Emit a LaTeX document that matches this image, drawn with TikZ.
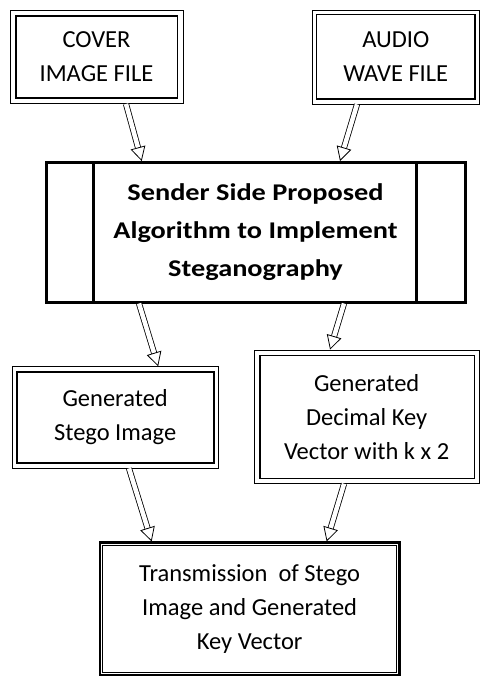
\documentclass[tikz,border=0pt]{standalone}
\usepackage{fontspec}
\setmainfont{Carlito}
\newfontfamily\widefont[FakeStretch=1.18]{Carlito}
\usetikzlibrary{arrows.meta}

\begin{document}
\begin{tikzpicture}[x=1pt,y=-1pt,line width=.8pt,
  txt/.style={align=center,font=\fontsize{24.5}{34}\selectfont},
  box/.style={draw,txt,inner sep=0pt},
  hollow/.style={double,double distance=4.5pt,line width=.8pt,
    -{Triangle[open,length=14pt,width=15pt,line width=.8pt]}}]
\useasboundingbox (0,0) rectangle (480,677);
\node[box,minimum width=173pt,minimum height=93.5pt] (cover) at (96.5,56.75) {COVER\\IMAGE FILE};
\node[box,minimum width=167.5pt,minimum height=94pt] (audio) at (395.75,57) {AUDIO\\WAVE FILE};
\node[box,line width=3pt,minimum width=419pt,minimum height=139.5pt,
  font=\widefont\bfseries\fontsize{24}{38}\selectfont] (main) at (255.5,232.25)
  {Sender Side Proposed\\Algorithm to Implement\\Steganography};
\node[box,minimum width=206.3pt,minimum height=101.3pt] (stego) at (115.15,417.35) {Generated\\Stego Image};
\node[box,minimum width=224.7pt,minimum height=133.3pt] (key) at (366.65,416.65) {Generated\\Decimal Key\\Vector with k x 2};
\node[box,line width=2.5pt,minimum width=299.3pt,minimum height=132.3pt] (trans) at (249.65,608.85)
  {Transmission~ of Stego\\Image and Generated\\Key Vector};
% inner frames
\draw[line width=1.6pt] ([shift={(6.5pt,-6.5pt)}]cover.north west) rectangle ([shift={(-6pt,6pt)}]cover.south east);
\draw[line width=1.6pt] ([shift={(5pt,-5pt)}]audio.north west) rectangle ([shift={(-5pt,5.5pt)}]audio.south east);
\draw[line width=2pt] ([shift={(5pt,-5.5pt)}]stego.north west) rectangle ([shift={(-5pt,5pt)}]stego.south east);
\draw[line width=1.2pt] ([shift={(6pt,-6pt)}]key.north west) rectangle ([shift={(-5pt,5pt)}]key.south east);
\draw (trans.north west) ++(4pt,-4pt) rectangle ([shift={(-4pt,4pt)}]trans.south east);
\draw[line width=3pt] ([xshift=49pt]main.north west) -- ([xshift=49pt]main.south west);
\draw[line width=3pt] ([xshift=-50pt]main.north east) -- ([xshift=-50pt]main.south east);
% arrows
\draw[hollow] ([xshift=29.5pt]cover.south) -- ([xshift=-113.8pt]main.north);
\draw[hollow] ([xshift=-38.75pt]audio.south) -- ([xshift=84.5pt]main.north);
\draw[hollow] ([xshift=-116.5pt]main.south) -- ([xshift=43pt]stego.north);
\draw[hollow] ([xshift=88.5pt]main.south) -- ([xshift=-36.6pt]key.north);
\draw[hollow] ([xshift=13.85pt]stego.south) -- ([xshift=-98pt]trans.north);
\draw[hollow] ([xshift=-22.6pt]key.south) -- ([xshift=77pt]trans.north);
\end{tikzpicture}
\end{document}
